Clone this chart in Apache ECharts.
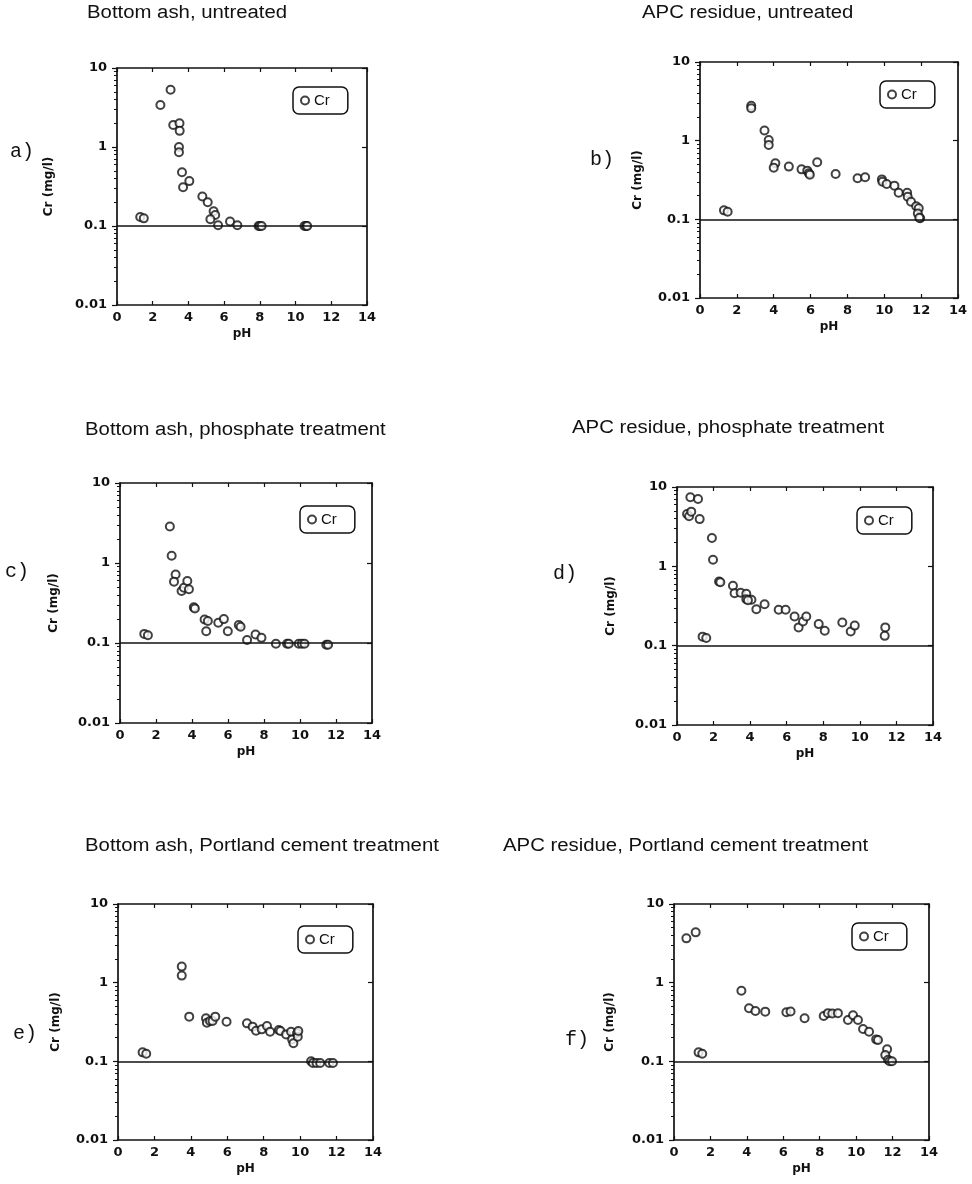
<!DOCTYPE html>
<html>
<head>
<meta charset="utf-8">
<title>Cr leaching vs pH</title>
<script src="https://cdn.jsdelivr.net/npm/echarts@6/dist/echarts.min.js"></script>
<style>
  html, body { margin: 0; padding: 0; background: #fff; }
  #chart { width: 972px; height: 1184px; }
</style>
</head>
<body>
<div id="chart"></div>
<script>
// Leached Cr concentration (mg/l) against leachate pH, six residue/treatment cases.

// a) Bottom ash, untreated
const phA = [1.3, 1.5, 2.43, 3.0, 3.15, 3.5, 3.51, 3.47, 3.47, 3.64, 3.70, 4.05, 4.78, 5.08, 5.41, 5.5, 5.23, 5.66, 6.33, 6.74, 7.93, 8.0, 8.1, 10.5, 10.6, 10.65];
const crA = [0.13, 0.125, 3.4, 5.3, 1.9, 2.0, 1.6, 1.0, 0.86, 0.48, 0.31, 0.37, 0.236, 0.20, 0.154, 0.138, 0.122, 0.102, 0.114, 0.102, 0.1, 0.1, 0.1, 0.1, 0.1, 0.1];

// b) APC residue, untreated
const phB = [1.3, 1.5, 2.78, 2.78, 3.5, 3.73, 3.73, 4.09, 4.0, 4.82, 5.51, 5.82, 5.91, 5.96, 6.36, 7.36, 8.55, 8.96, 9.87, 9.9, 10.13, 10.55, 10.78, 11.24, 11.27, 11.45, 11.73, 11.87, 11.82, 11.95, 11.9];
const crB = [0.13, 0.125, 2.77, 2.59, 1.35, 1.02, 0.88, 0.515, 0.454, 0.468, 0.432, 0.416, 0.385, 0.37, 0.531, 0.377, 0.332, 0.342, 0.322, 0.301, 0.281, 0.268, 0.218, 0.218, 0.194, 0.167, 0.147, 0.138, 0.119, 0.103, 0.105];

// c) Bottom ash, phosphate treatment
const phC = [1.35, 1.55, 2.77, 2.87, 3.09, 3.0, 3.42, 3.55, 3.74, 3.83, 4.1, 4.16, 4.7, 4.88, 4.79, 5.46, 5.77, 5.99, 6.6, 6.7, 7.06, 7.53, 7.86, 8.66, 9.28, 9.38, 9.93, 10.1, 10.25, 11.46, 11.56];
const crC = [0.13, 0.125, 2.86, 1.23, 0.72, 0.585, 0.447, 0.49, 0.597, 0.469, 0.279, 0.27, 0.197, 0.188, 0.14, 0.179, 0.199, 0.14, 0.168, 0.16, 0.109, 0.128, 0.116, 0.098, 0.098, 0.098, 0.098, 0.098, 0.098, 0.095, 0.095];

// d) APC residue, phosphate treatment
const phD = [0.55, 0.66, 0.78, 0.73, 1.15, 1.24, 1.4, 1.6, 1.91, 1.97, 2.3, 2.37, 3.06, 3.15, 3.48, 3.79, 3.79, 4.07, 3.88, 4.34, 4.79, 5.56, 5.94, 6.43, 6.65, 6.89, 7.07, 7.75, 8.08, 9.04, 9.5, 9.72, 11.39, 11.36];
const crD = [4.56, 4.27, 4.89, 7.41, 7.06, 3.94, 0.13, 0.125, 2.27, 1.21, 0.645, 0.63, 0.569, 0.459, 0.465, 0.451, 0.386, 0.379, 0.375, 0.288, 0.333, 0.283, 0.283, 0.233, 0.17, 0.202, 0.233, 0.187, 0.154, 0.196, 0.151, 0.179, 0.17, 0.133];

// e) Bottom ash, Portland cement treatment
const phE = [1.35, 1.55, 3.5, 3.5, 3.91, 4.83, 4.88, 5.05, 5.19, 5.34, 5.96, 7.08, 7.39, 7.58, 7.89, 8.18, 8.35, 8.83, 8.92, 9.23, 9.5, 9.56, 9.63, 9.83, 9.87, 9.9, 10.6, 10.7, 10.9, 11.1, 11.6, 11.8];
const crE = [0.13, 0.125, 1.6, 1.23, 0.37, 0.352, 0.31, 0.326, 0.326, 0.37, 0.319, 0.304, 0.276, 0.245, 0.255, 0.281, 0.238, 0.25, 0.243, 0.22, 0.238, 0.19, 0.17, 0.227, 0.205, 0.243, 0.1, 0.095, 0.095, 0.095, 0.095, 0.095];

// f) APC residue, Portland cement treatment
const phF = [0.68, 1.19, 1.35, 1.55, 3.7, 4.12, 4.47, 5.01, 6.17, 6.4, 7.17, 8.22, 8.45, 8.69, 9.0, 9.55, 9.83, 10.1, 10.38, 10.71, 11.1, 11.2, 11.7, 11.6, 11.75, 11.84, 11.97];
const crF = [3.66, 4.36, 0.13, 0.125, 0.79, 0.472, 0.437, 0.428, 0.42, 0.43, 0.352, 0.377, 0.41, 0.405, 0.41, 0.335, 0.385, 0.335, 0.258, 0.238, 0.19, 0.187, 0.142, 0.12, 0.105, 0.1, 0.1];

const panelTitles = [
  'Bottom ash, untreated',
  'APC residue, untreated',
  'Bottom ash, phosphate treatment',
  'APC residue, phosphate treatment',
  'Bottom ash, Portland cement treatment',
  'APC residue, Portland cement treatment'
];
const panelLetters = ['a)', 'b)', 'c)', 'd)', 'e)', 'f)'];
const seriesName = 'Cr';
const xName = 'pH';
const yName = 'Cr (mg/l)';
const xTickLabels = ['0', '2', '4', '6', '8', '10', '12', '14'];
const yTickLabels = ['0.01', '0.1', '1', '10'];
const limitValue = 0.1;

const panelPh = [phA, phB, phC, phD, phE, phF];
const panelCr = [crA, crB, crC, crD, crE, crF];

// Page layout of the six panels (pixels).
const layout = [
  { grid: { left: 117, top: 68,  width: 250, height: 237 }, legend: { left: 293, top: 87 },  title: [87, 13],  letter: [10, 152],  nameGap: 62 },
  { grid: { left: 700, top: 62,  width: 258, height: 236 }, legend: { left: 880, top: 81 },  title: [642, 13], letter: [590, 160], nameGap: 56 },
  { grid: { left: 120, top: 483, width: 252, height: 240 }, legend: { left: 300, top: 506 }, title: [85, 430], letter: [5, 572],   nameGap: 60 },
  { grid: { left: 677, top: 487, width: 256, height: 238 }, legend: { left: 857, top: 507 }, title: [572, 428], letter: [553, 574], nameGap: 60 },
  { grid: { left: 118, top: 904, width: 255, height: 236 }, legend: { left: 298, top: 926 }, title: [85, 846], letter: [13, 1034], nameGap: 56 },
  { grid: { left: 674, top: 904, width: 255, height: 236 }, legend: { left: 852, top: 923 }, title: [503, 846], letter: [565, 1040], nameGap: 58 }
];

const ink = '#111';
const frame = { color: ink, width: 1.7 };
const tickFont = { fontFamily: 'DejaVu Sans', fontWeight: 'bold', fontSize: 13, color: ink };
const nameFont = { fontFamily: 'DejaVu Sans', fontWeight: 'bold', fontSize: 12, color: ink };

const grids = [], xAxes = [], yAxes = [], series = [], legends = [], graphics = [];

layout.forEach((l, i) => {
  grids.push(Object.assign({ show: false }, l.grid));

  // bottom pH axis with labels, plus a bare top edge
  xAxes.push({
    gridIndex: i, type: 'value', position: 'bottom', min: 0, max: 14, interval: 2,
    axisLine: { onZero: false, lineStyle: frame },
    axisTick: { inside: true, length: 4, lineStyle: { color: ink, width: 1.2 } },
    axisLabel: { margin: 6, formatter: v => xTickLabels[Math.round(v / 2)], ...tickFont },
    splitLine: { show: false },
    name: xName, nameLocation: 'middle', nameGap: 23, nameTextStyle: nameFont
  });
  xAxes.push({
    gridIndex: i, type: 'value', position: 'top', min: 0, max: 14, interval: 2,
    axisLine: { onZero: false, lineStyle: frame },
    axisTick: { inside: true, length: 4, lineStyle: { color: ink, width: 1.2 } },
    axisLabel: { show: false }, splitLine: { show: false }
  });

  // log concentration axis on the left, bare right edge
  yAxes.push({
    gridIndex: i, type: 'log', logBase: 10, min: 0.01, max: 10, position: 'left',
    axisLine: { onZero: false, lineStyle: frame },
    axisTick: { inside: false, length: 5, lineStyle: { color: ink, width: 1.2 } },
    minorTick: { show: true, splitNumber: 9, length: 3, lineStyle: { color: ink, width: 1 } },
    axisLabel: { margin: 10, formatter: v => yTickLabels[Math.round(Math.log10(v)) + 2], ...tickFont },
    splitLine: { show: false }, minorSplitLine: { show: false },
    name: yName, nameLocation: 'middle', nameGap: l.nameGap, nameRotate: 90, nameTextStyle: nameFont
  });
  yAxes.push({
    gridIndex: i, type: 'log', logBase: 10, min: 0.01, max: 10, position: 'right',
    axisLine: { onZero: false, lineStyle: frame },
    axisTick: { inside: true, length: 5, lineStyle: { color: ink, width: 1.2 } },
    axisLabel: { show: false }, splitLine: { show: false }
  });

  const pts = panelPh[i].map((p, k) => [p, panelCr[i][k]]);
  series.push({
    name: seriesName, type: 'scatter', xAxisIndex: 2 * i, yAxisIndex: 2 * i,
    data: pts, symbol: 'emptyCircle', symbolSize: 8,
    itemStyle: { color: ink, borderWidth: 1.4 },
    markLine: {
      silent: true, symbol: 'none', label: { show: false },
      lineStyle: { color: ink, width: 1.7, type: 'solid' },
      data: [{ yAxis: limitValue }]
    }
  });

  legends.push({
    left: l.legend.left, top: l.legend.top, data: [seriesName], selectedMode: false,
    padding: [6, 18, 6, 7], itemWidth: 8, itemHeight: 8,
    borderColor: ink, borderWidth: 1.5, borderRadius: 6,
    textStyle: { fontFamily: 'Liberation Sans', fontSize: 15, color: ink }
  });

  graphics.push({
    type: 'text', x: l.title[0], y: l.title[1], scaleX: 1.13,
    style: { text: panelTitles[i], font: '18px "Liberation Sans"', fill: ink, verticalAlign: 'middle' }
  });
  graphics.push({
    type: 'text', x: l.letter[0], y: l.letter[1],
    style: { text: panelLetters[i], font: '20px "Liberation Mono"', fill: ink, verticalAlign: 'middle' }
  });
});

const chart = echarts.init(document.getElementById('chart'));
chart.setOption({
  animation: false,
  backgroundColor: '#fff',
  grid: grids,
  xAxis: xAxes,
  yAxis: yAxes,
  legend: legends,
  series: series,
  graphic: graphics
});
</script>
</body>
</html>
